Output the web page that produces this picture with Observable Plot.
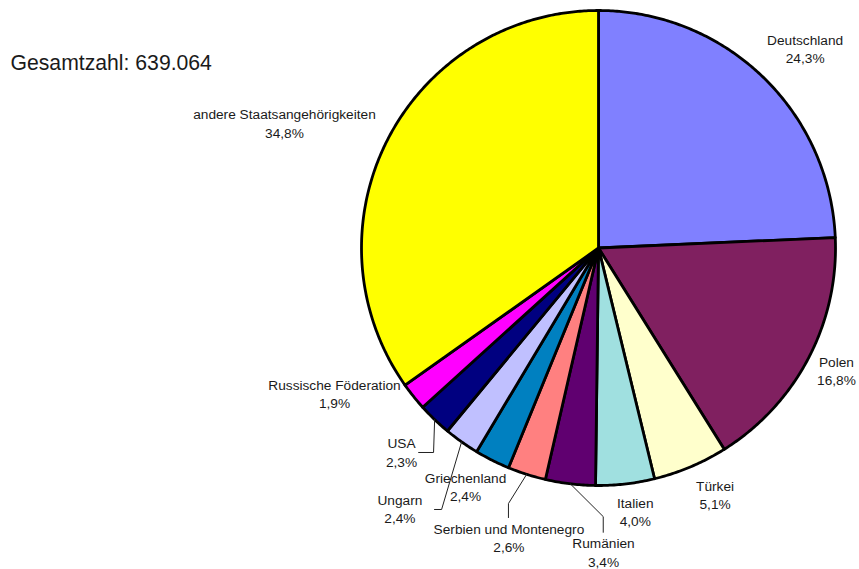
<!DOCTYPE html>
<html><head><meta charset="utf-8">
<script src="https://cdn.jsdelivr.net/npm/d3@7"></script>
<script src="https://cdn.jsdelivr.net/npm/@observablehq/plot@0.6"></script>
<style>
html,body{margin:0;padding:0;background:#fff;}
#chart{width:859px;height:569px;}
</style></head><body><div id="chart"></div>
<script>
// ---- data ----
const countries = ["Deutschland","Polen","Türkei","Italien","Rumänien","Serbien und Montenegro","Griechenland","Ungarn","USA","Russische Föderation","andere Staatsangehörigkeiten"];
const shares = [24.3,16.8,5.1,4.0,3.4,2.6,2.4,2.4,2.3,1.9,34.8];
const colors = ["#8080FF","#802060","#FFFFCC","#A0E0E0","#600070","#FF8080","#0080C0","#C0C0FF","#000080","#FF00FF","#FFFF00"];
const totalLabel = "Gesamtzahl: 639.064";

// ---- layout (unit-circle coordinates, pie radius = 1) ----
const labelAt = [[0.872,0.778],[1.004,-0.578],[0.492,-1.101],[0.155,-1.172],[0.021,-1.342],[-0.378,-1.281],[-0.561,-1.066],[-0.838,-1.159],[-0.831,-0.920],[-1.114,-0.674],[-1.325,0.465]];
const leaderBends = {
  "Rumänien": [[0.020,-1.131],[0.020,-1.197]],
  "Serbien und Montenegro": [[-0.380,-1.076],[-0.380,-1.135]],
  "Ungarn": [[-0.662,-1.101],[-0.692,-1.101]],
  "USA": [[-0.696,-0.861],[-0.759,-0.861]]
};
const titleAt = [-2.481, 0.749];

// ---- geometry from the values ----
const total = d3.sum(shares);
const slices = [];
const mids = [];
let acc = 0;
countries.forEach((c, i) => {
  const a0 = acc / total * 360, a1 = (acc + shares[i]) / total * 360;
  acc += shares[i];
  mids.push((a0 + a1) / 2);
  slices.push({c, col: colors[i], x: 0, y: 0});
  const n = Math.max(2, Math.ceil((a1 - a0) / 0.5));
  for (let k = 0; k <= n; k++) {
    const a = (a0 + (a1 - a0) * k / n) * Math.PI / 180;
    slices.push({c, col: colors[i], x: Math.sin(a), y: Math.cos(a)});
  }
  slices.push({c, col: colors[i], x: 0, y: 0});
});
const fmt = v => d3.format(".1f")(v).replace(".", ",") + "%";
const labels = countries.map((c, i) => ({t: c + "\n" + fmt(shares[i]), x: labelAt[i][0], y: labelAt[i][1]}));
const leaders = [];
for (const [c, pts] of Object.entries(leaderBends)) {
  const i = countries.indexOf(c);
  const a = mids[i] * Math.PI / 180;
  leaders.push({c, x: Math.sin(a), y: Math.cos(a)});
  pts.forEach(p => leaders.push({c, x: p[0], y: p[1]}));
}

const font = "'Liberation Sans', Arial, Helvetica, sans-serif";
const chart = Plot.plot({
  width: 859, height: 569,
  marginLeft: 361, marginRight: 24, marginTop: 10, marginBottom: 84,
  x: {domain: [-1, 1], axis: null},
  y: {domain: [-1, 1], axis: null},
  color: {type: "identity"},
  style: {fontFamily: font, background: "#fff", overflow: "visible"},
  marks: [
    Plot.line(slices, {x: "x", y: "y", z: "c", fill: "col", stroke: "#000", strokeWidth: 2.8, strokeLinejoin: "round", curve: "linear"}),
    Plot.line(leaders, {x: "x", y: "y", z: "c", stroke: "#222", strokeWidth: 1, curve: "linear"}),
    Plot.text(labels, {x: "x", y: "y", text: "t", lineAnchor: "bottom", textAnchor: "middle", fontSize: 13.7, lineHeight: 1.34, fill: "#1a1a1a"}),
    Plot.text([totalLabel], {x: () => titleAt[0], y: () => titleAt[1], text: d => d, textAnchor: "start", lineAnchor: "bottom", fontSize: 21.2, fill: "#1a1a1a"})
  ]
});
document.getElementById("chart").appendChild(chart);
</script></body></html>
